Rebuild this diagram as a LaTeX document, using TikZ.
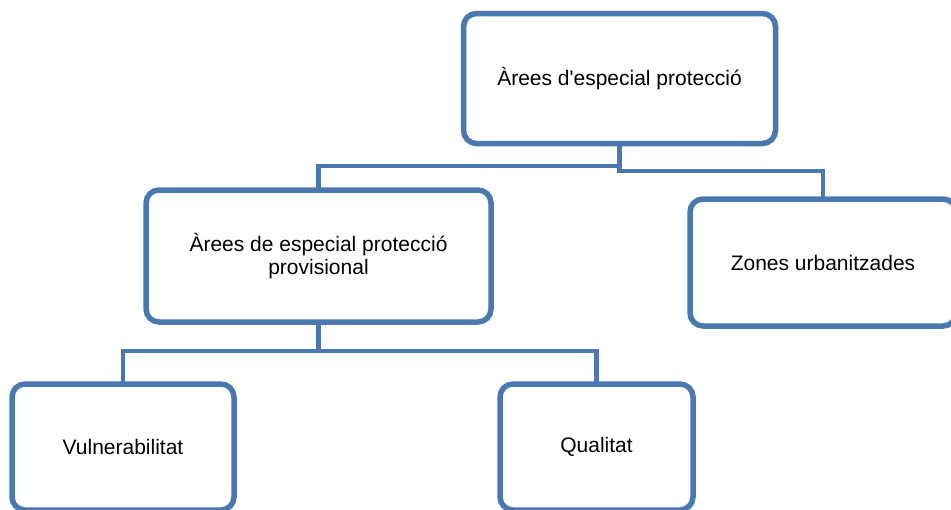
\documentclass[tikz,border=0pt]{standalone}
\usepackage{fontspec}
\setmainfont{Liberation Sans}[Ligatures=TeXOff]
\definecolor{boxblue}{RGB}{76,120,176}
\begin{document}
\begin{tikzpicture}[x=1pt,y=-1pt,
  orgbox/.style={draw=boxblue, line width=5.5pt, rounded corners=13pt, fill=white,
    outer sep=0pt, inner sep=0pt, align=center, text=black,
    font=\fontsize{21}{23}\selectfont},
  link/.style={draw=boxblue, line width=4.5pt}]
\useasboundingbox (0,0) rectangle (951,509);
\clip (0,0) rectangle (951,509);
\node[orgbox, minimum width=312pt, minimum height=130pt] (top) at (619.5,78.5) {Àrees d'especial protecció};
\node[orgbox, minimum width=345pt, minimum height=132pt] (mid) at (318.5,256) {Àrees de especial protecció\\provisional};
\node[orgbox, minimum width=266pt, minimum height=127pt] (zon) at (823,262.5) {Zones urbanitzades};
\node[orgbox, minimum width=222pt, minimum height=126pt] (vul) at (123,447) {Vulnerabilitat};
\node[orgbox, minimum width=193pt, minimum height=126pt] (qua) at (596.5,447) {Qualitat};
\draw[link] (top.south) -- ++(0,22.5) -| (mid.north);
\draw[link] (top.south) -- ++(0,27.5) -| (zon.north);
\draw[link] (mid.south) -- ++(0,29) -| (vul.north);
\draw[link] (mid.south) -- ++(0,29) -| (qua.north);
\end{tikzpicture}
\end{document}
